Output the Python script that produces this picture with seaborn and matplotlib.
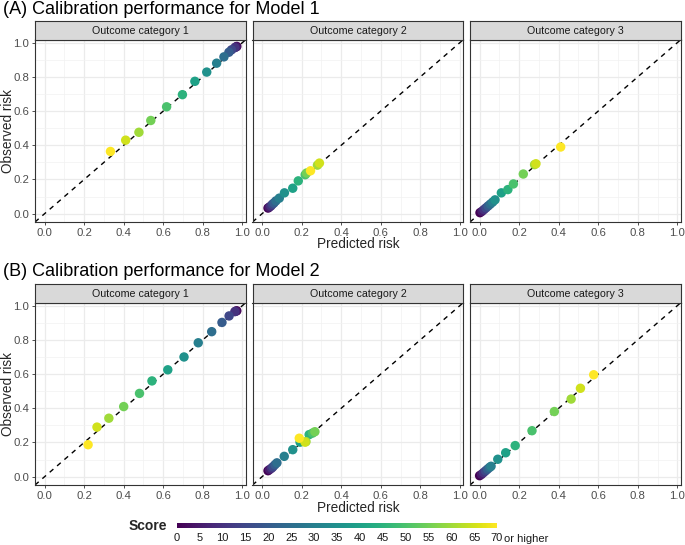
import numpy as np
import pandas as pd
import matplotlib
matplotlib.use("Agg")
import matplotlib.pyplot as plt
import seaborn as sns
from matplotlib.colors import Normalize
from matplotlib.colorbar import ColorbarBase
from matplotlib.ticker import MultipleLocator
import matplotlib as mpl

# ---------------- data ----------------
scores = [0, 5, 10, 15, 20, 25, 30, 35, 40, 45, 50, 55, 60, 65, 70]
categories = ["Outcome category 1", "Outcome category 2", "Outcome category 3"]

# Model 1
m1_cat1_pred = [0.972, 0.968, 0.962, 0.945, 0.932, 0.907, 0.870, 0.820, 0.760, 0.697, 0.617, 0.537, 0.477, 0.410, 0.333]
m1_cat1_obs  = [0.978, 0.975, 0.971, 0.958, 0.944, 0.917, 0.880, 0.828, 0.774, 0.696, 0.625, 0.545, 0.476, 0.430, 0.364]
m1_cat2_pred = [0.030, 0.036, 0.044, 0.052, 0.060, 0.070, 0.087, 0.113, 0.155, 0.183, 0.218, 0.225, 0.280, 0.290, 0.245]
m1_cat2_obs  = [0.033, 0.038, 0.045, 0.055, 0.063, 0.075, 0.091, 0.122, 0.149, 0.192, 0.228, 0.238, 0.284, 0.296, 0.251]
m1_cat3_pred = [0.002, 0.012, 0.022, 0.032, 0.043, 0.054, 0.066, 0.078, 0.110, 0.143, 0.171, 0.221, 0.278, 0.285, 0.410]
m1_cat3_obs  = [0.006, 0.014, 0.024, 0.034, 0.045, 0.056, 0.068, 0.081, 0.122, 0.141, 0.174, 0.232, 0.287, 0.292, 0.390]

# Model 2
m2_cat1_pred = [0.972, 0.967, 0.962, 0.933, 0.897, 0.845, 0.777, 0.705, 0.623, 0.543, 0.480, 0.400, 0.325, 0.265, 0.220]
m2_cat1_obs  = [0.970, 0.968, 0.965, 0.940, 0.902, 0.848, 0.783, 0.700, 0.625, 0.560, 0.487, 0.410, 0.342, 0.290, 0.187]
m2_cat2_pred = [0.030, 0.038, 0.048, 0.055, 0.065, 0.075, 0.112, 0.155, 0.192, 0.238, 0.255, 0.267, 0.222, 0.217, 0.188]
m2_cat2_obs  = [0.035, 0.042, 0.050, 0.058, 0.070, 0.081, 0.119, 0.158, 0.202, 0.246, 0.255, 0.263, 0.205, 0.202, 0.225]
m2_cat3_pred = [0.000, 0.010, 0.020, 0.030, 0.040, 0.050, 0.058, 0.092, 0.132, 0.180, 0.265, 0.378, 0.463, 0.510, 0.577]
m2_cat3_obs  = [0.006, 0.014, 0.024, 0.034, 0.044, 0.054, 0.061, 0.102, 0.140, 0.182, 0.269, 0.381, 0.454, 0.517, 0.596]

model_titles = ["(A) Calibration performance for Model 1",
                "(B) Calibration performance for Model 2"]
axis_ticks = [0.0, 0.2, 0.4, 0.6, 0.8, 1.0]
score_ticks = [0, 5, 10, 15, 20, 25, 30, 35, 40, 45, 50, 55, 60, 65, 70]

rows = []
for model, sets in [("Model 1", [(m1_cat1_pred, m1_cat1_obs), (m1_cat2_pred, m1_cat2_obs), (m1_cat3_pred, m1_cat3_obs)]),
                    ("Model 2", [(m2_cat1_pred, m2_cat1_obs), (m2_cat2_pred, m2_cat2_obs), (m2_cat3_pred, m2_cat3_obs)])]:
    for cat, (p, o) in zip(categories, sets):
        for s, pp, oo in zip(scores, p, o):
            rows.append(dict(model=model, category=cat, score=s, pred=pp, obs=oo))
df = pd.DataFrame(rows)

# ---------------- style ----------------
sns.set_theme(style="white")
plt.rcParams['font.family'] = ['Liberation Sans', 'DejaVu Sans']

W, H = 685, 545
fig = plt.figure(figsize=(W / 100, H / 100), dpi=100)


def rect(l, t, w, h):
    return [l / W, 1 - (t + h) / H, w / W, h / H]


lefts = [35, 252.5, 470]
pw = 211
row_geom = [  # strip top, strip height, panel top, panel height
    (21, 18.5, 39.5, 182.5),
    (283.5, 19, 302.5, 182.5),
]
title_base = [14, 276]
xlab_y = [243.5, 508.5]
lim = (-0.0485, 1.0185)
norm = Normalize(0, 70)

for r, model in enumerate(["Model 1", "Model 2"]):
    st, sh, pt, ph = row_geom[r]
    fig.text(3 / W, 1 - title_base[r] / H, model_titles[r], fontsize=13,
             ha="left", va="baseline", color="black")
    for c, cat in enumerate(categories):
        ax = fig.add_axes(rect(lefts[c], pt, pw, ph))
        sub = df[(df.model == model) & (df.category == cat)]
        ax.set_xlim(*lim)
        ax.set_ylim(*lim)
        ax.set_facecolor("white")
        ax.xaxis.set_major_locator(MultipleLocator(0.2))
        ax.yaxis.set_major_locator(MultipleLocator(0.2))
        ax.xaxis.set_minor_locator(MultipleLocator(0.1))
        ax.yaxis.set_minor_locator(MultipleLocator(0.1))
        ax.grid(True, which="major", color="#ebebeb", linewidth=0.9)
        ax.grid(True, which="minor", color="#f2f2f2", linewidth=0.5)
        ax.set_axisbelow(True)
        ax.plot([lim[0], lim[1]], [lim[0], lim[1]], ls=(0, (3.5, 3.5)), color="black",
                linewidth=1.0, zorder=2)
        sns.scatterplot(data=sub, x="pred", y="obs", hue="score", palette="viridis",
                        hue_norm=(0, 70), s=46, linewidth=0, legend=False, ax=ax, zorder=3)
        ax.set_xlabel("")
        ax.set_ylabel("")
        ax.set_xticks(axis_ticks)
        ax.set_xticklabels([f"{v:.1f}" for v in axis_ticks])
        ax.set_yticks(axis_ticks)
        if c == 0:
            ax.set_yticklabels([f"{v:.1f}" for v in axis_ticks])
        else:
            ax.set_yticklabels([])
        ax.tick_params(axis="both", which="major", length=2.5, width=0.6, color="#333333",
                       labelsize=8.2, labelcolor="#4d4d4d", pad=1.5,
                       left=(c == 0), bottom=True)
        ax.tick_params(axis="both", which="minor", length=0)
        for sp in ax.spines.values():
            sp.set_color("#333333")
            sp.set_linewidth(0.8)
            sp.set_visible(True)
        # strip
        sax = fig.add_axes(rect(lefts[c], st, pw, sh))
        sax.set_facecolor("#d9d9d9")
        sax.set_xticks([])
        sax.set_yticks([])
        for sp in sax.spines.values():
            sp.set_color("#333333")
            sp.set_linewidth(0.8)
            sp.set_visible(True)
        sax.text(0.5, 0.45, cat, ha="center", va="center", fontsize=7.7, color="#1a1a1a",
                 transform=sax.transAxes)
    fig.text((lefts[1] + pw / 2) / W, 1 - xlab_y[r] / H, "Predicted risk", ha="center",
             va="center", fontsize=9.8)
    fig.text(8 / W, 1 - (pt + ph / 2) / H, "Observed risk", ha="center", va="center",
             rotation=90, fontsize=9.8)

# ---------------- colorbar ----------------
cax = fig.add_axes(rect(177, 522.5, 320, 5.5))
cb = ColorbarBase(cax, cmap=mpl.colormaps["viridis"], norm=norm, orientation="horizontal")
cb.outline.set_visible(False)
cb.set_ticks(score_ticks)
cax.tick_params(axis="x", direction="in", length=1.3, width=0.6, color="white",
                labelsize=8, labelcolor="#1a1a1a", pad=3.5, top=True, bottom=True)
fig.text(167 / W, 1 - 525.5 / H, "Score", ha="right", va="center", fontsize=10,
         fontweight="bold")
fig.text(504 / W, 1 - 538.5 / H, "or higher", ha="left", va="center", fontsize=8,
         color="#1a1a1a")

fig.savefig("out.png", dpi=100)
